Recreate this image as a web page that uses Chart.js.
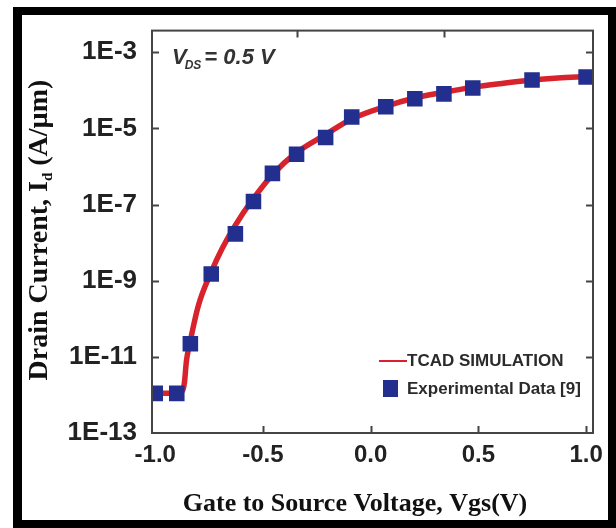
<!DOCTYPE html>
<html>
<head>
<meta charset="utf-8">
<script src="https://cdn.jsdelivr.net/npm/chart.js@4"></script>
<style>
  html, body { margin: 0; padding: 0; background: #fff; }
  #wrap { position: relative; width: 616px; height: 528px; }
</style>
</head>
<body>
<div id="wrap"><canvas id="idChart" width="616" height="528"></canvas></div>
<script>
// Данные
const expVgs = [-1.0, -0.9, -0.837, -0.74, -0.628, -0.544, -0.456, -0.344, -0.209, -0.088, 0.07, 0.205, 0.34, 0.474, 0.749, 1.0];
const expId = [1.1e-12, 1.1e-12, 2.2e-11, 1.5e-9, 1.7e-8, 1.2e-7, 6.6e-7, 2.1e-6, 5.8e-6, 2.0e-5, 3.7e-5, 6.0e-5, 8.1e-5, 1.15e-4, 1.87e-4, 2.24e-4];

const simVgs = [-1.0, -0.9, -0.875, -0.865, -0.855, -0.84, -0.8, -0.74, -0.69, -0.63, -0.55, -0.45, -0.35, -0.21, -0.09, 0.07, 0.2, 0.34, 0.47, 0.6, 0.75, 0.87, 1.0];
const simId = [1.1e-12, 1.1e-12, 1.25e-12, 2.0e-12, 8e-12, 2.2e-11, 2.2e-10, 1.7e-9, 6.9e-9, 2.75e-8, 1.3e-7, 6.6e-7, 2.2e-6, 6.9e-6, 1.75e-5, 3.8e-5, 6.2e-5, 8.9e-5, 1.2e-4, 1.5e-4, 1.86e-4, 2.1e-4, 2.3e-4];

const xTicks = [-1.0, -0.5, 0.0, 0.5, 1.0];
const yTicks = [1e-13, 1e-11, 1e-9, 1e-7, 1e-5, 1e-3];
const topTicks = [-0.34, 0.34];

const RED = '#d8232c';
const NAVY = '#232f8e';
const AXIS = '#444';

// Рамка, оси, подписи, легенда
const decorPlugin = {
    id: 'decor',
    afterDraw(chart) {
        const ctx = chart.ctx;
        const a = chart.chartArea;
        const xs = chart.scales.x, ys = chart.scales.y;
        ctx.save();

        // рамка вокруг графика
        ctx.strokeStyle = AXIS;
        ctx.lineWidth = 2;
        ctx.strokeRect(a.left, a.top, a.right - a.left, a.bottom - a.top);

        // внутренние засечки
        ctx.beginPath();
        yTicks.forEach(v => {
            const y = Math.round(ys.getPixelForValue(v)) + 0.5;
            if (y < a.bottom - 2) {
                ctx.moveTo(a.left, y); ctx.lineTo(a.left + 7, y);
                ctx.moveTo(a.right, y); ctx.lineTo(a.right - 7, y);
            }
        });
        xTicks.forEach(v => {
            const x = Math.round(xs.getPixelForValue(v)) + 0.5;
            if (x > a.left + 4 && x < a.right - 4) {
                ctx.moveTo(x, a.bottom); ctx.lineTo(x, a.bottom - 7);
            }
        });
        topTicks.forEach(v => {
            const x = Math.round(xs.getPixelForValue(v)) + 0.5;
            ctx.moveTo(x, a.top); ctx.lineTo(x, a.top + 7);
        });
        ctx.stroke();

        // V_DS = 0.5 V
        ctx.fillStyle = '#333';
        ctx.textBaseline = 'alphabetic';
        ctx.textAlign = 'left';
        ctx.font = 'italic bold 22px "Liberation Sans", Arial, sans-serif';
        let tx = 172;
        ctx.fillText('V', tx, 64);
        tx += ctx.measureText('V').width - 2;
        ctx.font = 'italic bold 12px "Liberation Sans", Arial, sans-serif';
        ctx.fillText('DS', tx, 69);
        tx += ctx.measureText('DS').width + 3;
        ctx.font = 'italic bold 22px "Liberation Sans", Arial, sans-serif';
        ctx.fillText('= 0.5 V', tx, 64);

        // легенда
        const simDs = chart.data.datasets[0];
        const expDs = chart.data.datasets[1];
        ctx.font = 'bold 17px "Liberation Sans", Arial, sans-serif';
        ctx.fillStyle = '#2a2a2a';
        ctx.textBaseline = 'middle';
        ctx.strokeStyle = simDs.borderColor;
        ctx.lineWidth = 2;
        ctx.beginPath();
        ctx.moveTo(379, 361); ctx.lineTo(407, 361);
        ctx.stroke();
        ctx.fillText(simDs.label, 407, 361);
        ctx.fillStyle = expDs.backgroundColor;
        ctx.fillRect(383, 380, 15, 17);
        ctx.fillStyle = '#2a2a2a';
        ctx.fillText(expDs.label, 407, 389);

        // подписи осей
        ctx.fillStyle = '#111';
        ctx.textAlign = 'center';
        ctx.textBaseline = 'alphabetic';
        ctx.font = 'bold 26px "Liberation Serif", "Times New Roman", serif';
        ctx.fillText('Gate to Source Voltage, Vgs(V)', 355, 511);

        ctx.translate(47, 230);
        ctx.rotate(-Math.PI / 2);
        const big = 'bold 28px "Liberation Serif", "Times New Roman", serif';
        const small = 'bold 15px "Liberation Serif", "Times New Roman", serif';
        const p1 = 'Drain Current, I', p2 = 'd', p3 = ' (A/\u00b5m)';
        ctx.font = big; const w1 = ctx.measureText(p1).width, w3 = ctx.measureText(p3).width;
        ctx.font = small; const w2 = ctx.measureText(p2).width;
        let sx = -(w1 + w2 + w3) / 2;
        ctx.textAlign = 'left';
        ctx.font = big; ctx.fillText(p1, sx, 0); sx += w1;
        ctx.font = small; ctx.fillText(p2, sx, 5); sx += w2;
        ctx.font = big; ctx.fillText(p3, sx, 0);
        ctx.restore();

        // внешняя чёрная рамка
        ctx.save();
        ctx.fillStyle = '#000';
        ctx.fillRect(13, 7, 603, 8);
        ctx.fillRect(13, 7, 9, 521);
        ctx.fillRect(608, 7, 8, 521);
        ctx.fillRect(13, 520, 603, 8);
        ctx.restore();
    }
};

new Chart(document.getElementById('idChart'), {
    type: 'line',
    data: {
        datasets: [{
            label: 'TCAD SIMULATION',
            data: simVgs.map((v, i) => ({ x: v, y: simId[i] })),
            borderColor: RED,
            borderWidth: 5.5,
            pointRadius: 0,
            cubicInterpolationMode: 'monotone',
            fill: false,
            order: 1
        }, {
            label: 'Experimental Data [9]',
            data: expVgs.map((v, i) => ({ x: v, y: expId[i] })),
            showLine: false,
            pointStyle: 'rect',
            pointRadius: 11,
            backgroundColor: NAVY,
            borderColor: NAVY,
            borderWidth: 0,
            order: 0
        }]
    },
    options: {
        responsive: false,
        animation: false,
        layout: { padding: { left: 0, top: 28, right: 23, bottom: 0 } },
        plugins: {
            legend: { display: false },
            tooltip: { enabled: false }
        },
        scales: {
            x: {
                type: 'linear',
                min: -1.015,
                max: 1.032,
                afterFit: s => { s.height = 95; },
                afterBuildTicks: s => { s.ticks = xTicks.map(v => ({ value: v })); },
                grid: { display: false, drawTicks: false },
                border: { display: false },
                ticks: {
                    padding: 8,
                    color: '#222',
                    font: { family: '"Liberation Sans", Arial, sans-serif', size: 24, weight: 'bold' },
                    callback: v => v.toFixed(1),
                    maxRotation: 0,
                    autoSkip: false
                }
            },
            y: {
                type: 'logarithmic',
                min: 1e-13,
                max: Math.pow(10, -2.43),
                afterFit: s => { s.width = 152; },
                afterBuildTicks: s => { s.ticks = yTicks.map(v => ({ value: v })); },
                grid: { display: false, drawTicks: false },
                border: { display: false },
                ticks: {
                    padding: 15,
                    color: '#222',
                    font: { family: '"Liberation Sans", Arial, sans-serif', size: 26, weight: 'bold' },
                    callback: v => '1E' + Math.round(Math.log10(v)),
                    autoSkip: false
                }
            }
        }
    },
    plugins: [decorPlugin]
});
</script>
</body>
</html>
